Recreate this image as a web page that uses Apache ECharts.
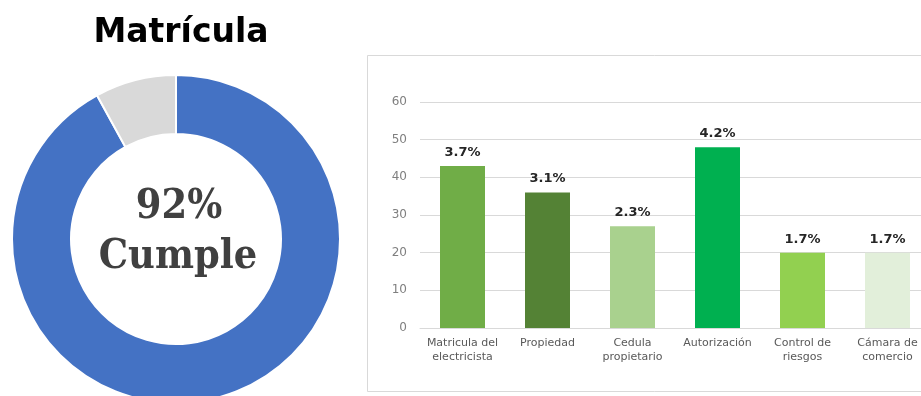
<!DOCTYPE html>
<html><head><meta charset="utf-8">
<script src="https://cdn.jsdelivr.net/npm/echarts@6/dist/echarts.min.js"></script>
<style>html,body{margin:0;padding:0;background:#fff;overflow:hidden}#c{width:940px;height:396px}</style>
</head><body><div id="c"></div>
<script>
var donutNames = ['Cumple', 'No cumple'];
var donutValues = [92, 8];
var donutColors = ['#4472c4', '#d9d9d9'];
var categories = ['Matricula del\nelectricista', 'Propiedad', 'Cedula\npropietario', 'Autorización', 'Control de\nriesgos', 'Cámara de\ncomercio'];
var barValues = [43, 36, 27, 48, 20, 20];
var barLabels = ['3.7%', '3.1%', '2.3%', '4.2%', '1.7%', '1.7%'];
var barColors = ['#70ad47', '#548235', '#a9d18e', '#00b050', '#92d050', '#e2efda'];
var yTicks = [0, 10, 20, 30, 40, 50, 60];

var chart = echarts.init(document.getElementById('c'), null, {renderer: 'canvas'});
var font = '"DejaVu Sans", sans-serif';
var serif = '"DejaVu Serif Condensed", "DejaVu Serif", serif';
chart.setOption({
  animation: false,
  backgroundColor: '#fff',
  graphic: [
    {type: 'rect', shape: {x: 367.5, y: 55.5, width: 600, height: 336}, style: {fill: 'none', stroke: '#d9d9d9', lineWidth: 1}, z: -1},
    {type: 'text', x: 181, y: 33, style: {text: 'Matrícula', font: 'bold 33px "DejaVu Sans", sans-serif', fill: '#000', textAlign: 'center', textVerticalAlign: 'middle'}},
    {type: 'text', x: 179, y: 207, style: {text: donutValues[0] + '%', font: 'bold 41px ' + serif, fill: '#404040', textAlign: 'center', textVerticalAlign: 'middle'}},
    {type: 'text', x: 178, y: 257, style: {text: donutNames[0], font: 'bold 41px ' + serif, fill: '#404040', textAlign: 'center', textVerticalAlign: 'middle'}}
  ],
  grid: {left: 420, top: 102, width: 510, height: 226, containLabel: false},
  xAxis: {
    type: 'category', data: categories,
    axisLine: {show: true, lineStyle: {color: '#d9d9d9'}},
    axisTick: {show: false},
    axisLabel: {color: '#595959', fontSize: 11, fontFamily: font, lineHeight: 14, margin: 8, interval: 0}
  },
  yAxis: {
    type: 'value', min: yTicks[0], max: yTicks[yTicks.length - 1], interval: 10,
    axisLine: {show: false}, axisTick: {show: false},
    splitLine: {lineStyle: {color: '#d9d9d9'}},
    axisLabel: {color: '#7f7f7f', fontSize: 12, fontFamily: font, margin: 13}
  },
  series: [
    {
      type: 'pie', radius: [105, 164], center: [176, 239], startAngle: 90, clockwise: true,
      label: {show: false}, labelLine: {show: false}, silent: true,
      itemStyle: {borderColor: '#fff', borderWidth: 2},
      data: donutValues.map(function (v, i) { return {name: donutNames[i], value: v, itemStyle: {color: donutColors[i]}}; })
    },
    {
      type: 'bar', barWidth: 45,
      data: barValues.map(function (v, i) { return {value: v, itemStyle: {color: barColors[i]}}; }),
      label: {
        show: true, position: 'top', distance: 7,
        formatter: function (p) { return barLabels[p.dataIndex]; },
        fontWeight: 'bold', fontSize: 13, color: '#262626', fontFamily: font
      }
    }
  ]
});
</script></body></html>
